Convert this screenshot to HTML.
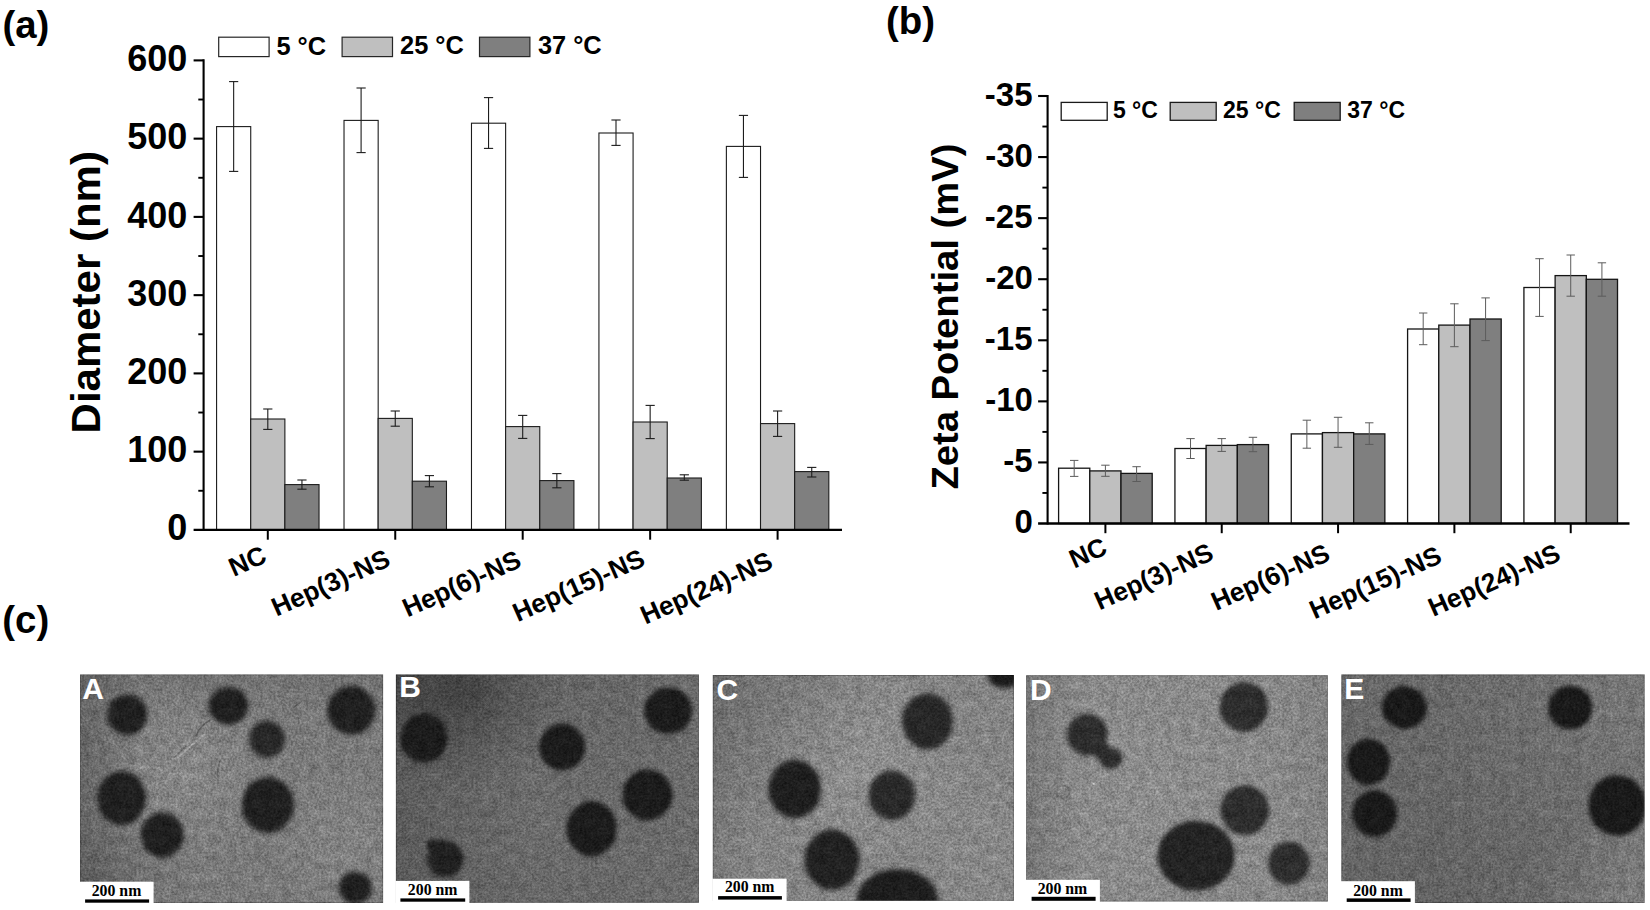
<!DOCTYPE html>
<html lang="en"><head><meta charset="utf-8"><title>Figure</title>
<style>html,body{margin:0;padding:0;background:#fff;overflow:hidden}svg{display:block}</style>
</head><body>
<svg width="1650" height="910" viewBox="0 0 1650 910">
<rect width="1650" height="910" fill="#fff"/>
<rect x="216.58" y="126.6" width="34.15" height="403.3" fill="#fff" stroke="#1c1c1c" stroke-width="1.1"/>
<rect x="250.73" y="419" width="34.15" height="110.9" fill="#bfbfbf" stroke="#1c1c1c" stroke-width="1.1"/>
<rect x="284.88" y="484.6" width="34.15" height="45.3" fill="#7f7f7f" stroke="#1c1c1c" stroke-width="1.1"/>
<line x1="233.65" y1="81.6" x2="233.65" y2="171.4" stroke="#1c1c1c" stroke-width="1.1" stroke-linecap="butt"/>
<line x1="229.05" y1="81.6" x2="238.25" y2="81.6" stroke="#1c1c1c" stroke-width="1.1" stroke-linecap="butt"/>
<line x1="229.05" y1="171.4" x2="238.25" y2="171.4" stroke="#1c1c1c" stroke-width="1.1" stroke-linecap="butt"/>
<line x1="267.8" y1="409" x2="267.8" y2="429.4" stroke="#1c1c1c" stroke-width="1.1" stroke-linecap="butt"/>
<line x1="263.2" y1="409" x2="272.4" y2="409" stroke="#1c1c1c" stroke-width="1.1" stroke-linecap="butt"/>
<line x1="263.2" y1="429.4" x2="272.4" y2="429.4" stroke="#1c1c1c" stroke-width="1.1" stroke-linecap="butt"/>
<line x1="301.95" y1="480" x2="301.95" y2="489.2" stroke="#1c1c1c" stroke-width="1.1" stroke-linecap="butt"/>
<line x1="297.35" y1="480" x2="306.55" y2="480" stroke="#1c1c1c" stroke-width="1.1" stroke-linecap="butt"/>
<line x1="297.35" y1="489.2" x2="306.55" y2="489.2" stroke="#1c1c1c" stroke-width="1.1" stroke-linecap="butt"/>
<rect x="344.02" y="120.4" width="34.15" height="409.5" fill="#fff" stroke="#1c1c1c" stroke-width="1.1"/>
<rect x="378.17" y="418.4" width="34.15" height="111.5" fill="#bfbfbf" stroke="#1c1c1c" stroke-width="1.1"/>
<rect x="412.32" y="481.2" width="34.15" height="48.7" fill="#7f7f7f" stroke="#1c1c1c" stroke-width="1.1"/>
<line x1="361.1" y1="88" x2="361.1" y2="152.6" stroke="#1c1c1c" stroke-width="1.1" stroke-linecap="butt"/>
<line x1="356.5" y1="88" x2="365.7" y2="88" stroke="#1c1c1c" stroke-width="1.1" stroke-linecap="butt"/>
<line x1="356.5" y1="152.6" x2="365.7" y2="152.6" stroke="#1c1c1c" stroke-width="1.1" stroke-linecap="butt"/>
<line x1="395.25" y1="411" x2="395.25" y2="426.2" stroke="#1c1c1c" stroke-width="1.1" stroke-linecap="butt"/>
<line x1="390.65" y1="411" x2="399.85" y2="411" stroke="#1c1c1c" stroke-width="1.1" stroke-linecap="butt"/>
<line x1="390.65" y1="426.2" x2="399.85" y2="426.2" stroke="#1c1c1c" stroke-width="1.1" stroke-linecap="butt"/>
<line x1="429.4" y1="475.6" x2="429.4" y2="486.8" stroke="#1c1c1c" stroke-width="1.1" stroke-linecap="butt"/>
<line x1="424.8" y1="475.6" x2="434" y2="475.6" stroke="#1c1c1c" stroke-width="1.1" stroke-linecap="butt"/>
<line x1="424.8" y1="486.8" x2="434" y2="486.8" stroke="#1c1c1c" stroke-width="1.1" stroke-linecap="butt"/>
<rect x="471.48" y="123.2" width="34.15" height="406.7" fill="#fff" stroke="#1c1c1c" stroke-width="1.1"/>
<rect x="505.62" y="426.6" width="34.15" height="103.3" fill="#bfbfbf" stroke="#1c1c1c" stroke-width="1.1"/>
<rect x="539.77" y="480.6" width="34.15" height="49.3" fill="#7f7f7f" stroke="#1c1c1c" stroke-width="1.1"/>
<line x1="488.55" y1="97.6" x2="488.55" y2="148.4" stroke="#1c1c1c" stroke-width="1.1" stroke-linecap="butt"/>
<line x1="483.95" y1="97.6" x2="493.15" y2="97.6" stroke="#1c1c1c" stroke-width="1.1" stroke-linecap="butt"/>
<line x1="483.95" y1="148.4" x2="493.15" y2="148.4" stroke="#1c1c1c" stroke-width="1.1" stroke-linecap="butt"/>
<line x1="522.7" y1="415.4" x2="522.7" y2="438.4" stroke="#1c1c1c" stroke-width="1.1" stroke-linecap="butt"/>
<line x1="518.1" y1="415.4" x2="527.3" y2="415.4" stroke="#1c1c1c" stroke-width="1.1" stroke-linecap="butt"/>
<line x1="518.1" y1="438.4" x2="527.3" y2="438.4" stroke="#1c1c1c" stroke-width="1.1" stroke-linecap="butt"/>
<line x1="556.85" y1="473.6" x2="556.85" y2="487.8" stroke="#1c1c1c" stroke-width="1.1" stroke-linecap="butt"/>
<line x1="552.25" y1="473.6" x2="561.45" y2="473.6" stroke="#1c1c1c" stroke-width="1.1" stroke-linecap="butt"/>
<line x1="552.25" y1="487.8" x2="561.45" y2="487.8" stroke="#1c1c1c" stroke-width="1.1" stroke-linecap="butt"/>
<rect x="598.93" y="133" width="34.15" height="396.9" fill="#fff" stroke="#1c1c1c" stroke-width="1.1"/>
<rect x="633.08" y="422" width="34.15" height="107.9" fill="#bfbfbf" stroke="#1c1c1c" stroke-width="1.1"/>
<rect x="667.23" y="478" width="34.15" height="51.9" fill="#7f7f7f" stroke="#1c1c1c" stroke-width="1.1"/>
<line x1="616" y1="120" x2="616" y2="145.4" stroke="#1c1c1c" stroke-width="1.1" stroke-linecap="butt"/>
<line x1="611.4" y1="120" x2="620.6" y2="120" stroke="#1c1c1c" stroke-width="1.1" stroke-linecap="butt"/>
<line x1="611.4" y1="145.4" x2="620.6" y2="145.4" stroke="#1c1c1c" stroke-width="1.1" stroke-linecap="butt"/>
<line x1="650.15" y1="405.4" x2="650.15" y2="438.6" stroke="#1c1c1c" stroke-width="1.1" stroke-linecap="butt"/>
<line x1="645.55" y1="405.4" x2="654.75" y2="405.4" stroke="#1c1c1c" stroke-width="1.1" stroke-linecap="butt"/>
<line x1="645.55" y1="438.6" x2="654.75" y2="438.6" stroke="#1c1c1c" stroke-width="1.1" stroke-linecap="butt"/>
<line x1="684.3" y1="474.8" x2="684.3" y2="480.2" stroke="#1c1c1c" stroke-width="1.1" stroke-linecap="butt"/>
<line x1="679.7" y1="474.8" x2="688.9" y2="474.8" stroke="#1c1c1c" stroke-width="1.1" stroke-linecap="butt"/>
<line x1="679.7" y1="480.2" x2="688.9" y2="480.2" stroke="#1c1c1c" stroke-width="1.1" stroke-linecap="butt"/>
<rect x="726.38" y="146.4" width="34.15" height="383.5" fill="#fff" stroke="#1c1c1c" stroke-width="1.1"/>
<rect x="760.52" y="423.6" width="34.15" height="106.3" fill="#bfbfbf" stroke="#1c1c1c" stroke-width="1.1"/>
<rect x="794.67" y="471.6" width="34.15" height="58.3" fill="#7f7f7f" stroke="#1c1c1c" stroke-width="1.1"/>
<line x1="743.45" y1="115.4" x2="743.45" y2="177.4" stroke="#1c1c1c" stroke-width="1.1" stroke-linecap="butt"/>
<line x1="738.85" y1="115.4" x2="748.05" y2="115.4" stroke="#1c1c1c" stroke-width="1.1" stroke-linecap="butt"/>
<line x1="738.85" y1="177.4" x2="748.05" y2="177.4" stroke="#1c1c1c" stroke-width="1.1" stroke-linecap="butt"/>
<line x1="777.6" y1="411" x2="777.6" y2="436.4" stroke="#1c1c1c" stroke-width="1.1" stroke-linecap="butt"/>
<line x1="773" y1="411" x2="782.2" y2="411" stroke="#1c1c1c" stroke-width="1.1" stroke-linecap="butt"/>
<line x1="773" y1="436.4" x2="782.2" y2="436.4" stroke="#1c1c1c" stroke-width="1.1" stroke-linecap="butt"/>
<line x1="811.75" y1="467.4" x2="811.75" y2="477" stroke="#1c1c1c" stroke-width="1.1" stroke-linecap="butt"/>
<line x1="807.15" y1="467.4" x2="816.35" y2="467.4" stroke="#1c1c1c" stroke-width="1.1" stroke-linecap="butt"/>
<line x1="807.15" y1="477" x2="816.35" y2="477" stroke="#1c1c1c" stroke-width="1.1" stroke-linecap="butt"/>
<line x1="203.6" y1="59.35" x2="203.6" y2="530.95" stroke="#000" stroke-width="2.1" stroke-linecap="butt"/>
<line x1="193.6" y1="529.9" x2="842" y2="529.9" stroke="#000" stroke-width="2.2" stroke-linecap="butt"/>
<text x="187.28" y="540.04" font-family='"Liberation Sans", Arial, Helvetica, sans-serif' font-size="36" font-weight="bold" text-anchor="end" fill="#000">0</text>
<line x1="198.3" y1="490.77" x2="203.6" y2="490.77" stroke="#000" stroke-width="1.9" stroke-linecap="butt"/>
<line x1="193.6" y1="451.65" x2="203.6" y2="451.65" stroke="#000" stroke-width="2.1" stroke-linecap="butt"/>
<text x="187.28" y="461.98" font-family='"Liberation Sans", Arial, Helvetica, sans-serif' font-size="36" font-weight="bold" text-anchor="end" fill="#000">100</text>
<line x1="198.3" y1="412.52" x2="203.6" y2="412.52" stroke="#000" stroke-width="1.9" stroke-linecap="butt"/>
<line x1="193.6" y1="373.4" x2="203.6" y2="373.4" stroke="#000" stroke-width="2.1" stroke-linecap="butt"/>
<text x="187.28" y="384.16" font-family='"Liberation Sans", Arial, Helvetica, sans-serif' font-size="36" font-weight="bold" text-anchor="end" fill="#000">200</text>
<line x1="198.3" y1="334.27" x2="203.6" y2="334.27" stroke="#000" stroke-width="1.9" stroke-linecap="butt"/>
<line x1="193.6" y1="295.15" x2="203.6" y2="295.15" stroke="#000" stroke-width="2.1" stroke-linecap="butt"/>
<text x="187.28" y="305.65" font-family='"Liberation Sans", Arial, Helvetica, sans-serif' font-size="36" font-weight="bold" text-anchor="end" fill="#000">300</text>
<line x1="198.3" y1="256.02" x2="203.6" y2="256.02" stroke="#000" stroke-width="1.9" stroke-linecap="butt"/>
<line x1="193.6" y1="216.9" x2="203.6" y2="216.9" stroke="#000" stroke-width="2.1" stroke-linecap="butt"/>
<text x="187.28" y="227.6" font-family='"Liberation Sans", Arial, Helvetica, sans-serif' font-size="36" font-weight="bold" text-anchor="end" fill="#000">400</text>
<line x1="198.3" y1="177.77" x2="203.6" y2="177.77" stroke="#000" stroke-width="1.9" stroke-linecap="butt"/>
<line x1="193.6" y1="138.65" x2="203.6" y2="138.65" stroke="#000" stroke-width="2.1" stroke-linecap="butt"/>
<text x="187.28" y="148.89" font-family='"Liberation Sans", Arial, Helvetica, sans-serif' font-size="36" font-weight="bold" text-anchor="end" fill="#000">500</text>
<line x1="198.3" y1="99.52" x2="203.6" y2="99.52" stroke="#000" stroke-width="1.9" stroke-linecap="butt"/>
<line x1="193.6" y1="60.4" x2="203.6" y2="60.4" stroke="#000" stroke-width="2.1" stroke-linecap="butt"/>
<text x="187.28" y="70.88" font-family='"Liberation Sans", Arial, Helvetica, sans-serif' font-size="36" font-weight="bold" text-anchor="end" fill="#000">600</text>
<line x1="267.8" y1="529.9" x2="267.8" y2="539.7" stroke="#000" stroke-width="2" stroke-linecap="butt"/>
<line x1="395.25" y1="529.9" x2="395.25" y2="539.7" stroke="#000" stroke-width="2" stroke-linecap="butt"/>
<line x1="522.7" y1="529.9" x2="522.7" y2="539.7" stroke="#000" stroke-width="2" stroke-linecap="butt"/>
<line x1="650.15" y1="529.9" x2="650.15" y2="539.7" stroke="#000" stroke-width="2" stroke-linecap="butt"/>
<line x1="777.6" y1="529.9" x2="777.6" y2="539.7" stroke="#000" stroke-width="2" stroke-linecap="butt"/>
<text x="0" y="0" font-family='"Liberation Sans", Arial, Helvetica, sans-serif' font-size="26.2" font-weight="bold" text-anchor="end" fill="#000" transform="translate(268.39 561.68) rotate(-24)">NC</text>
<text x="0" y="0" font-family='"Liberation Sans", Arial, Helvetica, sans-serif' font-size="26.2" font-weight="bold" text-anchor="end" fill="#000" transform="translate(392.04 565.23) rotate(-24)">Hep(3)-NS</text>
<text x="0" y="0" font-family='"Liberation Sans", Arial, Helvetica, sans-serif' font-size="26.2" font-weight="bold" text-anchor="end" fill="#000" transform="translate(523.06 566.13) rotate(-24)">Hep(6)-NS</text>
<text x="0" y="0" font-family='"Liberation Sans", Arial, Helvetica, sans-serif' font-size="26.2" font-weight="bold" text-anchor="end" fill="#000" transform="translate(646.78 564.8) rotate(-24)">Hep(15)-NS</text>
<text x="0" y="0" font-family='"Liberation Sans", Arial, Helvetica, sans-serif' font-size="26.2" font-weight="bold" text-anchor="end" fill="#000" transform="translate(774.49 567.39) rotate(-24)">Hep(24)-NS</text>
<text x="0" y="0" font-family='"Liberation Sans", Arial, Helvetica, sans-serif' font-size="42" font-weight="bold" text-anchor="middle" fill="#000" transform="translate(100.12 292.25) rotate(-90) scale(1 0.95)">Diameter (nm)</text>
<rect x="218.7" y="37.2" width="50.4" height="19.4" fill="#fff" stroke="#262626" stroke-width="1.2"/>
<text x="276.4" y="54.63" font-family='"Liberation Sans", Arial, Helvetica, sans-serif' font-size="25.4" font-weight="bold" text-anchor="start" fill="#000">5 °C</text>
<rect x="342.1" y="37.2" width="50.4" height="19.4" fill="#bfbfbf" stroke="#262626" stroke-width="1.2"/>
<text x="400.09" y="54.21" font-family='"Liberation Sans", Arial, Helvetica, sans-serif' font-size="25.4" font-weight="bold" text-anchor="start" fill="#000">25 °C</text>
<rect x="479.5" y="37.2" width="50.4" height="19.4" fill="#7f7f7f" stroke="#262626" stroke-width="1.2"/>
<text x="537.9" y="54.21" font-family='"Liberation Sans", Arial, Helvetica, sans-serif' font-size="25.4" font-weight="bold" text-anchor="start" fill="#000">37 °C</text>
<text x="2.43" y="37.62" font-family='"Liberation Sans", Arial, Helvetica, sans-serif' font-size="38.4" font-weight="bold" text-anchor="start" fill="#000">(a)</text>
<rect x="1058.6" y="468.2" width="31.2" height="55.3" fill="#fff" stroke="#141414" stroke-width="1.3"/>
<rect x="1089.8" y="470.9" width="31.2" height="52.6" fill="#bfbfbf" stroke="#141414" stroke-width="1.3"/>
<rect x="1121" y="473.4" width="31.2" height="50.1" fill="#7f7f7f" stroke="#141414" stroke-width="1.3"/>
<line x1="1074.2" y1="460.4" x2="1074.2" y2="476.4" stroke="#5c5c5c" stroke-width="1" stroke-linecap="butt"/>
<line x1="1070" y1="460.4" x2="1078.4" y2="460.4" stroke="#5c5c5c" stroke-width="1" stroke-linecap="butt"/>
<line x1="1070" y1="476.4" x2="1078.4" y2="476.4" stroke="#5c5c5c" stroke-width="1" stroke-linecap="butt"/>
<line x1="1105.4" y1="465.2" x2="1105.4" y2="476.3" stroke="#5c5c5c" stroke-width="1" stroke-linecap="butt"/>
<line x1="1101.2" y1="465.2" x2="1109.6" y2="465.2" stroke="#5c5c5c" stroke-width="1" stroke-linecap="butt"/>
<line x1="1101.2" y1="476.3" x2="1109.6" y2="476.3" stroke="#5c5c5c" stroke-width="1" stroke-linecap="butt"/>
<line x1="1136.6" y1="466.7" x2="1136.6" y2="481.5" stroke="#5c5c5c" stroke-width="1" stroke-linecap="butt"/>
<line x1="1132.4" y1="466.7" x2="1140.8" y2="466.7" stroke="#5c5c5c" stroke-width="1" stroke-linecap="butt"/>
<line x1="1132.4" y1="481.5" x2="1140.8" y2="481.5" stroke="#5c5c5c" stroke-width="1" stroke-linecap="butt"/>
<rect x="1174.93" y="448.5" width="31.2" height="75" fill="#fff" stroke="#141414" stroke-width="1.3"/>
<rect x="1206.13" y="445.4" width="31.2" height="78.1" fill="#bfbfbf" stroke="#141414" stroke-width="1.3"/>
<rect x="1237.33" y="444.6" width="31.2" height="78.9" fill="#7f7f7f" stroke="#141414" stroke-width="1.3"/>
<line x1="1190.53" y1="438.6" x2="1190.53" y2="458.5" stroke="#5c5c5c" stroke-width="1" stroke-linecap="butt"/>
<line x1="1186.33" y1="438.6" x2="1194.73" y2="438.6" stroke="#5c5c5c" stroke-width="1" stroke-linecap="butt"/>
<line x1="1186.33" y1="458.5" x2="1194.73" y2="458.5" stroke="#5c5c5c" stroke-width="1" stroke-linecap="butt"/>
<line x1="1221.73" y1="438.6" x2="1221.73" y2="451.4" stroke="#5c5c5c" stroke-width="1" stroke-linecap="butt"/>
<line x1="1217.53" y1="438.6" x2="1225.93" y2="438.6" stroke="#5c5c5c" stroke-width="1" stroke-linecap="butt"/>
<line x1="1217.53" y1="451.4" x2="1225.93" y2="451.4" stroke="#5c5c5c" stroke-width="1" stroke-linecap="butt"/>
<line x1="1252.93" y1="437.3" x2="1252.93" y2="451.7" stroke="#5c5c5c" stroke-width="1" stroke-linecap="butt"/>
<line x1="1248.73" y1="437.3" x2="1257.13" y2="437.3" stroke="#5c5c5c" stroke-width="1" stroke-linecap="butt"/>
<line x1="1248.73" y1="451.7" x2="1257.13" y2="451.7" stroke="#5c5c5c" stroke-width="1" stroke-linecap="butt"/>
<rect x="1291.26" y="433.9" width="31.2" height="89.6" fill="#fff" stroke="#141414" stroke-width="1.3"/>
<rect x="1322.46" y="432.6" width="31.2" height="90.9" fill="#bfbfbf" stroke="#141414" stroke-width="1.3"/>
<rect x="1353.66" y="433.9" width="31.2" height="89.6" fill="#7f7f7f" stroke="#141414" stroke-width="1.3"/>
<line x1="1306.86" y1="420.2" x2="1306.86" y2="448.2" stroke="#5c5c5c" stroke-width="1" stroke-linecap="butt"/>
<line x1="1302.66" y1="420.2" x2="1311.06" y2="420.2" stroke="#5c5c5c" stroke-width="1" stroke-linecap="butt"/>
<line x1="1302.66" y1="448.2" x2="1311.06" y2="448.2" stroke="#5c5c5c" stroke-width="1" stroke-linecap="butt"/>
<line x1="1338.06" y1="417.3" x2="1338.06" y2="447.3" stroke="#5c5c5c" stroke-width="1" stroke-linecap="butt"/>
<line x1="1333.86" y1="417.3" x2="1342.26" y2="417.3" stroke="#5c5c5c" stroke-width="1" stroke-linecap="butt"/>
<line x1="1333.86" y1="447.3" x2="1342.26" y2="447.3" stroke="#5c5c5c" stroke-width="1" stroke-linecap="butt"/>
<line x1="1369.26" y1="422.8" x2="1369.26" y2="444.4" stroke="#5c5c5c" stroke-width="1" stroke-linecap="butt"/>
<line x1="1365.06" y1="422.8" x2="1373.46" y2="422.8" stroke="#5c5c5c" stroke-width="1" stroke-linecap="butt"/>
<line x1="1365.06" y1="444.4" x2="1373.46" y2="444.4" stroke="#5c5c5c" stroke-width="1" stroke-linecap="butt"/>
<rect x="1407.59" y="329" width="31.2" height="194.5" fill="#fff" stroke="#141414" stroke-width="1.3"/>
<rect x="1438.79" y="325.1" width="31.2" height="198.4" fill="#bfbfbf" stroke="#141414" stroke-width="1.3"/>
<rect x="1469.99" y="319" width="31.2" height="204.5" fill="#7f7f7f" stroke="#141414" stroke-width="1.3"/>
<line x1="1423.19" y1="313" x2="1423.19" y2="344.7" stroke="#5c5c5c" stroke-width="1" stroke-linecap="butt"/>
<line x1="1418.99" y1="313" x2="1427.39" y2="313" stroke="#5c5c5c" stroke-width="1" stroke-linecap="butt"/>
<line x1="1418.99" y1="344.7" x2="1427.39" y2="344.7" stroke="#5c5c5c" stroke-width="1" stroke-linecap="butt"/>
<line x1="1454.39" y1="303.8" x2="1454.39" y2="346.7" stroke="#5c5c5c" stroke-width="1" stroke-linecap="butt"/>
<line x1="1450.19" y1="303.8" x2="1458.59" y2="303.8" stroke="#5c5c5c" stroke-width="1" stroke-linecap="butt"/>
<line x1="1450.19" y1="346.7" x2="1458.59" y2="346.7" stroke="#5c5c5c" stroke-width="1" stroke-linecap="butt"/>
<line x1="1485.59" y1="297.9" x2="1485.59" y2="340.6" stroke="#5c5c5c" stroke-width="1" stroke-linecap="butt"/>
<line x1="1481.39" y1="297.9" x2="1489.79" y2="297.9" stroke="#5c5c5c" stroke-width="1" stroke-linecap="butt"/>
<line x1="1481.39" y1="340.6" x2="1489.79" y2="340.6" stroke="#5c5c5c" stroke-width="1" stroke-linecap="butt"/>
<rect x="1523.92" y="287.5" width="31.2" height="236" fill="#fff" stroke="#141414" stroke-width="1.3"/>
<rect x="1555.12" y="275.6" width="31.2" height="247.9" fill="#bfbfbf" stroke="#141414" stroke-width="1.3"/>
<rect x="1586.32" y="279.3" width="31.2" height="244.2" fill="#7f7f7f" stroke="#141414" stroke-width="1.3"/>
<line x1="1539.52" y1="258.7" x2="1539.52" y2="316.4" stroke="#5c5c5c" stroke-width="1" stroke-linecap="butt"/>
<line x1="1535.32" y1="258.7" x2="1543.72" y2="258.7" stroke="#5c5c5c" stroke-width="1" stroke-linecap="butt"/>
<line x1="1535.32" y1="316.4" x2="1543.72" y2="316.4" stroke="#5c5c5c" stroke-width="1" stroke-linecap="butt"/>
<line x1="1570.72" y1="255" x2="1570.72" y2="296.2" stroke="#5c5c5c" stroke-width="1" stroke-linecap="butt"/>
<line x1="1566.52" y1="255" x2="1574.92" y2="255" stroke="#5c5c5c" stroke-width="1" stroke-linecap="butt"/>
<line x1="1566.52" y1="296.2" x2="1574.92" y2="296.2" stroke="#5c5c5c" stroke-width="1" stroke-linecap="butt"/>
<line x1="1601.92" y1="262.8" x2="1601.92" y2="296.2" stroke="#5c5c5c" stroke-width="1" stroke-linecap="butt"/>
<line x1="1597.72" y1="262.8" x2="1606.12" y2="262.8" stroke="#5c5c5c" stroke-width="1" stroke-linecap="butt"/>
<line x1="1597.72" y1="296.2" x2="1606.12" y2="296.2" stroke="#5c5c5c" stroke-width="1" stroke-linecap="butt"/>
<line x1="1047.6" y1="94.95" x2="1047.6" y2="524.55" stroke="#000" stroke-width="2.1" stroke-linecap="butt"/>
<line x1="1038.1" y1="523.5" x2="1629.5" y2="523.5" stroke="#000" stroke-width="2.3" stroke-linecap="butt"/>
<text x="1032.91" y="533.41" font-family='"Liberation Sans", Arial, Helvetica, sans-serif' font-size="33" font-weight="bold" text-anchor="end" fill="#000">0</text>
<line x1="1042.4" y1="492.96" x2="1047.6" y2="492.96" stroke="#000" stroke-width="1.9" stroke-linecap="butt"/>
<line x1="1038.1" y1="462.43" x2="1047.6" y2="462.43" stroke="#000" stroke-width="2.1" stroke-linecap="butt"/>
<text x="1032.57" y="472.24" font-family='"Liberation Sans", Arial, Helvetica, sans-serif' font-size="33" font-weight="bold" text-anchor="end" fill="#000">-5</text>
<line x1="1042.4" y1="431.89" x2="1047.6" y2="431.89" stroke="#000" stroke-width="1.9" stroke-linecap="butt"/>
<line x1="1038.1" y1="401.36" x2="1047.6" y2="401.36" stroke="#000" stroke-width="2.1" stroke-linecap="butt"/>
<text x="1032.91" y="411.24" font-family='"Liberation Sans", Arial, Helvetica, sans-serif' font-size="33" font-weight="bold" text-anchor="end" fill="#000">-10</text>
<line x1="1042.4" y1="370.82" x2="1047.6" y2="370.82" stroke="#000" stroke-width="1.9" stroke-linecap="butt"/>
<line x1="1038.1" y1="340.29" x2="1047.6" y2="340.29" stroke="#000" stroke-width="2.1" stroke-linecap="butt"/>
<text x="1032.57" y="349.68" font-family='"Liberation Sans", Arial, Helvetica, sans-serif' font-size="33" font-weight="bold" text-anchor="end" fill="#000">-15</text>
<line x1="1042.4" y1="309.75" x2="1047.6" y2="309.75" stroke="#000" stroke-width="1.9" stroke-linecap="butt"/>
<line x1="1038.1" y1="279.21" x2="1047.6" y2="279.21" stroke="#000" stroke-width="2.1" stroke-linecap="butt"/>
<text x="1032.91" y="288.65" font-family='"Liberation Sans", Arial, Helvetica, sans-serif' font-size="33" font-weight="bold" text-anchor="end" fill="#000">-20</text>
<line x1="1042.4" y1="248.68" x2="1047.6" y2="248.68" stroke="#000" stroke-width="1.9" stroke-linecap="butt"/>
<line x1="1038.1" y1="218.14" x2="1047.6" y2="218.14" stroke="#000" stroke-width="2.1" stroke-linecap="butt"/>
<text x="1032.57" y="227.52" font-family='"Liberation Sans", Arial, Helvetica, sans-serif' font-size="33" font-weight="bold" text-anchor="end" fill="#000">-25</text>
<line x1="1042.4" y1="187.61" x2="1047.6" y2="187.61" stroke="#000" stroke-width="1.9" stroke-linecap="butt"/>
<line x1="1038.1" y1="157.07" x2="1047.6" y2="157.07" stroke="#000" stroke-width="2.1" stroke-linecap="butt"/>
<text x="1032.91" y="166.97" font-family='"Liberation Sans", Arial, Helvetica, sans-serif' font-size="33" font-weight="bold" text-anchor="end" fill="#000">-30</text>
<line x1="1042.4" y1="126.54" x2="1047.6" y2="126.54" stroke="#000" stroke-width="1.9" stroke-linecap="butt"/>
<line x1="1038.1" y1="96" x2="1047.6" y2="96" stroke="#000" stroke-width="2.1" stroke-linecap="butt"/>
<text x="1032.57" y="105.81" font-family='"Liberation Sans", Arial, Helvetica, sans-serif' font-size="33" font-weight="bold" text-anchor="end" fill="#000">-35</text>
<line x1="1105.4" y1="523.5" x2="1105.4" y2="533.2" stroke="#000" stroke-width="2" stroke-linecap="butt"/>
<line x1="1221.73" y1="523.5" x2="1221.73" y2="533.2" stroke="#000" stroke-width="2" stroke-linecap="butt"/>
<line x1="1338.06" y1="523.5" x2="1338.06" y2="533.2" stroke="#000" stroke-width="2" stroke-linecap="butt"/>
<line x1="1454.39" y1="523.5" x2="1454.39" y2="533.2" stroke="#000" stroke-width="2" stroke-linecap="butt"/>
<line x1="1570.72" y1="523.5" x2="1570.72" y2="533.2" stroke="#000" stroke-width="2" stroke-linecap="butt"/>
<text x="0" y="0" font-family='"Liberation Sans", Arial, Helvetica, sans-serif' font-size="26.2" font-weight="bold" text-anchor="end" fill="#000" transform="translate(1108.76 553.31) rotate(-24)">NC</text>
<text x="0" y="0" font-family='"Liberation Sans", Arial, Helvetica, sans-serif' font-size="26.2" font-weight="bold" text-anchor="end" fill="#000" transform="translate(1215.24 558.97) rotate(-24)">Hep(3)-NS</text>
<text x="0" y="0" font-family='"Liberation Sans", Arial, Helvetica, sans-serif' font-size="26.2" font-weight="bold" text-anchor="end" fill="#000" transform="translate(1331.82 559.55) rotate(-24)">Hep(6)-NS</text>
<text x="0" y="0" font-family='"Liberation Sans", Arial, Helvetica, sans-serif' font-size="26.2" font-weight="bold" text-anchor="end" fill="#000" transform="translate(1443.41 562.01) rotate(-24)">Hep(15)-NS</text>
<text x="0" y="0" font-family='"Liberation Sans", Arial, Helvetica, sans-serif' font-size="26.2" font-weight="bold" text-anchor="end" fill="#000" transform="translate(1562.18 559.7) rotate(-24)">Hep(24)-NS</text>
<text x="0" y="0" font-family='"Liberation Sans", Arial, Helvetica, sans-serif' font-size="38.2" font-weight="bold" text-anchor="middle" fill="#000" transform="translate(958.4 316.61) rotate(-90) scale(1 0.97)">Zeta Potential (mV)</text>
<rect x="1061.2" y="102.4" width="46" height="17.9" fill="#fff" stroke="#1a1a1a" stroke-width="1.3"/>
<text x="1112.9" y="118.41" font-family='"Liberation Sans", Arial, Helvetica, sans-serif' font-size="23" font-weight="bold" text-anchor="start" fill="#000">5 °C</text>
<rect x="1170.2" y="102.4" width="46" height="17.9" fill="#bfbfbf" stroke="#1a1a1a" stroke-width="1.3"/>
<text x="1222.98" y="118.13" font-family='"Liberation Sans", Arial, Helvetica, sans-serif' font-size="23" font-weight="bold" text-anchor="start" fill="#000">25 °C</text>
<rect x="1294.2" y="102.4" width="46" height="17.9" fill="#7f7f7f" stroke="#1a1a1a" stroke-width="1.3"/>
<text x="1347.3" y="118.09" font-family='"Liberation Sans", Arial, Helvetica, sans-serif' font-size="23" font-weight="bold" text-anchor="start" fill="#000">37 °C</text>
<text x="886.05" y="33.93" font-family='"Liberation Sans", Arial, Helvetica, sans-serif' font-size="38.4" font-weight="bold" text-anchor="start" fill="#000">(b)</text>
<text x="2.33" y="632.72" font-family='"Liberation Sans", Arial, Helvetica, sans-serif' font-size="38.4" font-weight="bold" text-anchor="start" fill="#000">(c)</text>
<defs><filter id="soft" x="-10%" y="-10%" width="120%" height="120%"><feGaussianBlur stdDeviation="0.6"/></filter></defs>
<defs><linearGradient id="gA1" gradientUnits="userSpaceOnUse" x1="80.05" y1="0" x2="140.05" y2="0"><stop offset="0" stop-color="#000" stop-opacity="0.17"/><stop offset="1" stop-color="#000" stop-opacity="0"/></linearGradient><radialGradient id="gA2" gradientUnits="userSpaceOnUse" cx="190" cy="770" r="95"><stop offset="0" stop-color="#fff" stop-opacity="0.1"/><stop offset="1" stop-color="#fff" stop-opacity="0"/></radialGradient><radialGradient id="gA3" gradientUnits="userSpaceOnUse" cx="345" cy="840" r="80"><stop offset="0" stop-color="#fff" stop-opacity="0.07"/><stop offset="1" stop-color="#fff" stop-opacity="0"/></radialGradient><radialGradient id="gA4" gradientUnits="userSpaceOnUse" cx="105" cy="895" r="90"><stop offset="0" stop-color="#000" stop-opacity="0.12"/><stop offset="1" stop-color="#000" stop-opacity="0"/></radialGradient><linearGradient id="gA5" gradientUnits="userSpaceOnUse" x1="0" y1="674.4" x2="0" y2="714.4"><stop offset="0" stop-color="#000" stop-opacity="0.07"/><stop offset="1" stop-color="#000" stop-opacity="0"/></linearGradient></defs>
<defs>
<clipPath id="clip0"><rect x="80.05" y="674.4" width="303.05" height="228.6"/></clipPath>
<filter id="bl0" filterUnits="userSpaceOnUse" x="60.05" y="654.4" width="343.05" height="268.6" color-interpolation-filters="sRGB"><feGaussianBlur stdDeviation="2.6"/></filter>
<filter id="gr0" filterUnits="userSpaceOnUse" x="79.05" y="673.4" width="305.05" height="230.6" color-interpolation-filters="sRGB"><feTurbulence type="fractalNoise" baseFrequency="0.46" numOctaves="2" seed="3"/><feColorMatrix type="matrix" values="1 0 0 0 0  1 0 0 0 0  1 0 0 0 0  0 0 0 0 1" result="n1"/><feTurbulence type="fractalNoise" baseFrequency="0.11" numOctaves="2" seed="23"/><feColorMatrix type="matrix" values="1 0 0 0 0  1 0 0 0 0  1 0 0 0 0  0 0 0 0 1" result="n2"/><feComposite in="n1" in2="n2" operator="arithmetic" k1="0" k2="0.66" k3="0.34" k4="0" result="g"/><feComposite in="SourceGraphic" in2="g" operator="arithmetic" k1="0.7" k2="0.65" k3="0.12" k4="-0.06"/></filter>
</defs>
<g clip-path="url(#clip0)">
<g filter="url(#gr0)">
<rect x="78.05" y="672.4" width="307.05" height="232.6" fill="#7a7a7a"/>
<rect x="80.05" y="674.4" width="303.05" height="228.6" fill="url(#gA1)"/>
<rect x="80.05" y="674.4" width="303.05" height="228.6" fill="url(#gA2)"/>
<rect x="80.05" y="674.4" width="303.05" height="228.6" fill="url(#gA3)"/>
<rect x="80.05" y="674.4" width="303.05" height="228.6" fill="url(#gA4)"/>
<rect x="80.05" y="674.4" width="303.05" height="228.6" fill="url(#gA5)"/>
<g filter="url(#bl0)">
<ellipse cx="127.3" cy="714.8" rx="20.2" ry="20.4" fill="#202020"/>
<ellipse cx="228.3" cy="705.9" rx="20" ry="19" fill="#202020"/>
<ellipse cx="267" cy="739" rx="18" ry="18.8" fill="#282828"/>
<ellipse cx="351.3" cy="710.2" rx="24.2" ry="24.4" fill="#202020"/>
<ellipse cx="121.7" cy="798.2" rx="24.4" ry="27" fill="#202020"/>
<ellipse cx="162.3" cy="835.1" rx="21.7" ry="22.6" fill="#202020"/>
<ellipse cx="267.8" cy="805" rx="26.2" ry="28" fill="#202020"/>
<ellipse cx="355.3" cy="887.9" rx="16.6" ry="16.2" fill="#202020"/>
</g>
<g fill="none" stroke-linecap="round" filter="url(#soft)"><path d="M210 720 Q200 726 196 736" stroke="#000" stroke-opacity="0.28" stroke-width="1.6"/><path d="M204 735 Q192 744 184 752 T172 759" stroke="#fff" stroke-opacity="0.22" stroke-width="1.8"/><path d="M186 746 Q180 752 175 757" stroke="#000" stroke-opacity="0.2" stroke-width="1.4"/><path d="M220 761 Q217 769 218 777" stroke="#000" stroke-opacity="0.26" stroke-width="1.5"/><path d="M294 707 L301 702" stroke="#000" stroke-opacity="0.25" stroke-width="1.4"/><path d="M298 718 L299 723" stroke="#000" stroke-opacity="0.22" stroke-width="1.4"/><path d="M140 768 Q152 764 162 770 T185 772" stroke="#fff" stroke-opacity="0.12" stroke-width="2"/><path d="M296 850 L297 858" stroke="#000" stroke-opacity="0.22" stroke-width="1.4"/></g>
</g>
<rect x="80.05" y="674.4" width="303.05" height="228.6" fill="none" stroke="#000" stroke-opacity="0.28" stroke-width="1.6"/>
</g>
<rect x="79.55" y="881.7" width="74.05" height="21.9" fill="#fff"/>
<rect x="85.1" y="899.4" width="64" height="3.3" fill="#000"/>
<text x="116.51" y="895.61" font-family='"Liberation Serif", "Times New Roman", serif' font-size="15.8" font-weight="bold" text-anchor="middle" fill="#000">200 nm</text>
<text x="82.24" y="698.54" font-family='"Liberation Sans", Arial, Helvetica, sans-serif' font-size="30" font-weight="bold" text-anchor="start" fill="#fff">A</text>
<defs><radialGradient id="gB1" gradientUnits="userSpaceOnUse" cx="468" cy="690" r="95"><stop offset="0" stop-color="#000" stop-opacity="0.27"/><stop offset="1" stop-color="#000" stop-opacity="0"/></radialGradient><radialGradient id="gB2" gradientUnits="userSpaceOnUse" cx="395.9" cy="674.4" r="110"><stop offset="0" stop-color="#000" stop-opacity="0.16"/><stop offset="1" stop-color="#000" stop-opacity="0"/></radialGradient><radialGradient id="gB3" gradientUnits="userSpaceOnUse" cx="540" cy="810" r="150"><stop offset="0" stop-color="#fff" stop-opacity="0.05"/><stop offset="1" stop-color="#fff" stop-opacity="0"/></radialGradient><linearGradient id="gB4" gradientUnits="userSpaceOnUse" x1="588.9" y1="0" x2="698.9" y2="0"><stop offset="0" stop-color="#fff" stop-opacity="0"/><stop offset="1" stop-color="#fff" stop-opacity="0.05"/></linearGradient><linearGradient id="gB5" gradientUnits="userSpaceOnUse" x1="395.9" y1="0" x2="535.9" y2="0"><stop offset="0" stop-color="#000" stop-opacity="0.1"/><stop offset="1" stop-color="#000" stop-opacity="0"/></linearGradient></defs>
<defs>
<clipPath id="clip1"><rect x="395.9" y="674.4" width="303" height="228.3"/></clipPath>
<filter id="bl1" filterUnits="userSpaceOnUse" x="375.9" y="654.4" width="343" height="268.3" color-interpolation-filters="sRGB"><feGaussianBlur stdDeviation="2.3"/></filter>
<filter id="gr1" filterUnits="userSpaceOnUse" x="394.9" y="673.4" width="305" height="230.3" color-interpolation-filters="sRGB"><feTurbulence type="fractalNoise" baseFrequency="0.46" numOctaves="2" seed="11"/><feColorMatrix type="matrix" values="1 0 0 0 0  1 0 0 0 0  1 0 0 0 0  0 0 0 0 1" result="n1"/><feTurbulence type="fractalNoise" baseFrequency="0.11" numOctaves="2" seed="31"/><feColorMatrix type="matrix" values="1 0 0 0 0  1 0 0 0 0  1 0 0 0 0  0 0 0 0 1" result="n2"/><feComposite in="n1" in2="n2" operator="arithmetic" k1="0" k2="0.66" k3="0.34" k4="0" result="g"/><feComposite in="SourceGraphic" in2="g" operator="arithmetic" k1="0.7" k2="0.65" k3="0.12" k4="-0.06"/></filter>
</defs>
<g clip-path="url(#clip1)">
<g filter="url(#gr1)">
<rect x="393.9" y="672.4" width="307" height="232.3" fill="#656565"/>
<rect x="395.9" y="674.4" width="303" height="228.3" fill="url(#gB1)"/>
<rect x="395.9" y="674.4" width="303" height="228.3" fill="url(#gB2)"/>
<rect x="395.9" y="674.4" width="303" height="228.3" fill="url(#gB3)"/>
<rect x="395.9" y="674.4" width="303" height="228.3" fill="url(#gB4)"/>
<rect x="395.9" y="674.4" width="303" height="228.3" fill="url(#gB5)"/>
<g filter="url(#bl1)">
<ellipse cx="424" cy="738.2" rx="23.6" ry="24.6" fill="#1c1c1c"/>
<ellipse cx="562.1" cy="747.1" rx="23.1" ry="23.5" fill="#1c1c1c"/>
<ellipse cx="668.2" cy="710.8" rx="24" ry="23.5" fill="#1c1c1c"/>
<ellipse cx="647.4" cy="795" rx="25.1" ry="25.4" fill="#1c1c1c"/>
<ellipse cx="591.7" cy="828.7" rx="25.1" ry="27.6" fill="#1c1c1c"/>
<ellipse cx="445.1" cy="859" rx="18.1" ry="18.6" fill="#212121"/>
<path d="M425.5 840.5 L444 840 L432 862 Z" fill="#212121"/>
</g>
</g>
<rect x="395.9" y="674.4" width="303" height="228.3" fill="none" stroke="#000" stroke-opacity="0.28" stroke-width="1.6"/>
</g>
<rect x="395.4" y="880.9" width="74" height="22.4" fill="#fff"/>
<rect x="400.4" y="898.4" width="64.8" height="3.3" fill="#000"/>
<text x="432.65" y="894.74" font-family='"Liberation Serif", "Times New Roman", serif' font-size="15.8" font-weight="bold" text-anchor="middle" fill="#000">200 nm</text>
<text x="399.3" y="696.91" font-family='"Liberation Sans", Arial, Helvetica, sans-serif' font-size="30" font-weight="bold" text-anchor="start" fill="#fff">B</text>
<defs><radialGradient id="gC1" gradientUnits="userSpaceOnUse" cx="712.8" cy="675" r="170"><stop offset="0" stop-color="#000" stop-opacity="0.15"/><stop offset="1" stop-color="#000" stop-opacity="0"/></radialGradient><radialGradient id="gC2" gradientUnits="userSpaceOnUse" cx="865" cy="765" r="110"><stop offset="0" stop-color="#fff" stop-opacity="0.1"/><stop offset="1" stop-color="#fff" stop-opacity="0"/></radialGradient><radialGradient id="gC3" gradientUnits="userSpaceOnUse" cx="980" cy="840" r="90"><stop offset="0" stop-color="#fff" stop-opacity="0.04"/><stop offset="1" stop-color="#fff" stop-opacity="0"/></radialGradient><linearGradient id="gC4" gradientUnits="userSpaceOnUse" x1="712.8" y1="0" x2="752.8" y2="0"><stop offset="0" stop-color="#000" stop-opacity="0.08"/><stop offset="1" stop-color="#000" stop-opacity="0"/></linearGradient></defs>
<defs>
<clipPath id="clip2"><rect x="712.8" y="675" width="301.1" height="225.8"/></clipPath>
<filter id="bl2" filterUnits="userSpaceOnUse" x="692.8" y="655" width="341.1" height="265.8" color-interpolation-filters="sRGB"><feGaussianBlur stdDeviation="2.6"/></filter>
<filter id="gr2" filterUnits="userSpaceOnUse" x="711.8" y="674" width="303.1" height="227.8" color-interpolation-filters="sRGB"><feTurbulence type="fractalNoise" baseFrequency="0.46" numOctaves="2" seed="5"/><feColorMatrix type="matrix" values="1 0 0 0 0  1 0 0 0 0  1 0 0 0 0  0 0 0 0 1" result="n1"/><feTurbulence type="fractalNoise" baseFrequency="0.11" numOctaves="2" seed="25"/><feColorMatrix type="matrix" values="1 0 0 0 0  1 0 0 0 0  1 0 0 0 0  0 0 0 0 1" result="n2"/><feComposite in="n1" in2="n2" operator="arithmetic" k1="0" k2="0.66" k3="0.34" k4="0" result="g"/><feComposite in="SourceGraphic" in2="g" operator="arithmetic" k1="0.7" k2="0.65" k3="0.12" k4="-0.06"/></filter>
</defs>
<g clip-path="url(#clip2)">
<g filter="url(#gr2)">
<rect x="710.8" y="673" width="305.1" height="229.8" fill="#848484"/>
<rect x="712.8" y="675" width="301.1" height="225.8" fill="url(#gC1)"/>
<rect x="712.8" y="675" width="301.1" height="225.8" fill="url(#gC2)"/>
<rect x="712.8" y="675" width="301.1" height="225.8" fill="url(#gC3)"/>
<rect x="712.8" y="675" width="301.1" height="225.8" fill="url(#gC4)"/>
<g filter="url(#bl2)">
<ellipse cx="927.5" cy="721.5" rx="25.4" ry="28.3" fill="#282828"/>
<ellipse cx="794.8" cy="789" rx="26.4" ry="29.1" fill="#1f1f1f"/>
<ellipse cx="891.9" cy="795.4" rx="23.5" ry="24.8" fill="#2a2a2a"/>
<ellipse cx="831.9" cy="859.8" rx="27.6" ry="30.2" fill="#222222"/>
<ellipse cx="897.4" cy="901" rx="41" ry="32.1" fill="#1e1e1e"/>
<ellipse cx="1005" cy="675" rx="17.6" ry="13.1" fill="#1c1c1c"/>
</g>
</g>
<rect x="712.8" y="675" width="301.1" height="225.8" fill="none" stroke="#000" stroke-opacity="0.28" stroke-width="1.6"/>
</g>
<rect x="712.3" y="878.7" width="74.3" height="22.7" fill="#fff"/>
<rect x="718.1" y="896.1" width="63.8" height="3.5" fill="#000"/>
<text x="749.68" y="892.26" font-family='"Liberation Serif", "Times New Roman", serif' font-size="15.8" font-weight="bold" text-anchor="middle" fill="#000">200 nm</text>
<text x="716.53" y="700.41" font-family='"Liberation Sans", Arial, Helvetica, sans-serif' font-size="30" font-weight="bold" text-anchor="start" fill="#fff">C</text>
<defs><radialGradient id="gD1" gradientUnits="userSpaceOnUse" cx="1150" cy="790" r="150"><stop offset="0" stop-color="#fff" stop-opacity="0.04"/><stop offset="1" stop-color="#fff" stop-opacity="0"/></radialGradient><linearGradient id="gD2" gradientUnits="userSpaceOnUse" x1="1026.2" y1="0" x2="1081.2" y2="0"><stop offset="0" stop-color="#000" stop-opacity="0.13"/><stop offset="1" stop-color="#000" stop-opacity="0"/></linearGradient><linearGradient id="gD3" gradientUnits="userSpaceOnUse" x1="1277.8" y1="0" x2="1327.8" y2="0"><stop offset="0" stop-color="#000" stop-opacity="0"/><stop offset="1" stop-color="#000" stop-opacity="0.05"/></linearGradient></defs>
<defs>
<clipPath id="clip3"><rect x="1026.2" y="675.3" width="301.6" height="226.2"/></clipPath>
<filter id="bl3" filterUnits="userSpaceOnUse" x="1006.2" y="655.3" width="341.6" height="266.2" color-interpolation-filters="sRGB"><feGaussianBlur stdDeviation="2.2"/></filter>
<filter id="gr3" filterUnits="userSpaceOnUse" x="1025.2" y="674.3" width="303.6" height="228.2" color-interpolation-filters="sRGB"><feTurbulence type="fractalNoise" baseFrequency="0.46" numOctaves="2" seed="8"/><feColorMatrix type="matrix" values="1 0 0 0 0  1 0 0 0 0  1 0 0 0 0  0 0 0 0 1" result="n1"/><feTurbulence type="fractalNoise" baseFrequency="0.11" numOctaves="2" seed="28"/><feColorMatrix type="matrix" values="1 0 0 0 0  1 0 0 0 0  1 0 0 0 0  0 0 0 0 1" result="n2"/><feComposite in="n1" in2="n2" operator="arithmetic" k1="0" k2="0.66" k3="0.34" k4="0" result="g"/><feComposite in="SourceGraphic" in2="g" operator="arithmetic" k1="0.7" k2="0.65" k3="0.12" k4="-0.06"/></filter>
</defs>
<g clip-path="url(#clip3)">
<g filter="url(#gr3)">
<rect x="1024.2" y="673.3" width="305.6" height="230.2" fill="#888888"/>
<rect x="1026.2" y="675.3" width="301.6" height="226.2" fill="url(#gD1)"/>
<rect x="1026.2" y="675.3" width="301.6" height="226.2" fill="url(#gD2)"/>
<rect x="1026.2" y="675.3" width="301.6" height="226.2" fill="url(#gD3)"/>
<g filter="url(#bl3)">
<ellipse cx="1244.2" cy="706.9" rx="24.3" ry="24.8" fill="#2e2e2e"/>
<ellipse cx="1087.1" cy="734.5" rx="20.2" ry="20.8" fill="#2e2e2e"/>
<ellipse cx="1110.8" cy="758.5" rx="11.2" ry="10.8" fill="#2e2e2e"/>
<ellipse cx="1244.8" cy="810" rx="24.3" ry="24.8" fill="#2e2e2e"/>
<ellipse cx="1196" cy="855.8" rx="38.6" ry="35" fill="#242424"/>
<ellipse cx="1289" cy="863.1" rx="20.8" ry="21.6" fill="#2e2e2e"/>
<path d="M1090 752 L1104 741 L1116 752 L1104 765 Z" fill="#2e2e2e"/>
</g>
<g fill="none" stroke-linecap="round" filter="url(#soft)"><path d="M1160 722 Q1168 718 1169 726 T1165 734" stroke="#000" stroke-opacity="0.16" stroke-width="1.4"/><circle cx="1063" cy="792" r="6.5" stroke="#000" stroke-opacity="0.16" stroke-width="2"/><circle cx="1093.8" cy="784" r="1.1" fill="#fff" fill-opacity="0.55" stroke="none"/><path d="M1118 828 Q1126 822 1132 827" stroke="#fff" stroke-opacity="0.16" stroke-width="1.6"/><path d="M1205 690 Q1212 695 1210 703" stroke="#fff" stroke-opacity="0.13" stroke-width="1.6"/><path d="M1290 722 L1294 727" stroke="#000" stroke-opacity="0.16" stroke-width="1.6"/></g>
</g>
<rect x="1026.2" y="675.3" width="301.6" height="226.2" fill="none" stroke="#000" stroke-opacity="0.28" stroke-width="1.6"/>
</g>
<rect x="1025.7" y="879.8" width="74.2" height="22.3" fill="#fff"/>
<rect x="1031.6" y="896.8" width="64" height="4" fill="#000"/>
<text x="1062.49" y="894.45" font-family='"Liberation Serif", "Times New Roman", serif' font-size="15.8" font-weight="bold" text-anchor="middle" fill="#000">200 nm</text>
<text x="1030.12" y="700.31" font-family='"Liberation Sans", Arial, Helvetica, sans-serif' font-size="30" font-weight="bold" text-anchor="start" fill="#fff">D</text>
<defs><radialGradient id="gE1" gradientUnits="userSpaceOnUse" cx="1600" cy="700" r="170"><stop offset="0" stop-color="#fff" stop-opacity="0.07"/><stop offset="1" stop-color="#fff" stop-opacity="0"/></radialGradient><radialGradient id="gE2" gradientUnits="userSpaceOnUse" cx="1420" cy="890" r="130"><stop offset="0" stop-color="#000" stop-opacity="0.05"/><stop offset="1" stop-color="#000" stop-opacity="0"/></radialGradient><radialGradient id="gE3" gradientUnits="userSpaceOnUse" cx="1644" cy="903" r="120"><stop offset="0" stop-color="#fff" stop-opacity="0.12"/><stop offset="1" stop-color="#fff" stop-opacity="0"/></radialGradient><linearGradient id="gE4" gradientUnits="userSpaceOnUse" x1="1564.6" y1="0" x2="1644.6" y2="0"><stop offset="0" stop-color="#fff" stop-opacity="0"/><stop offset="1" stop-color="#fff" stop-opacity="0.04"/></linearGradient></defs>
<defs>
<clipPath id="clip4"><rect x="1341.4" y="674.5" width="303.2" height="228.5"/></clipPath>
<filter id="bl4" filterUnits="userSpaceOnUse" x="1321.4" y="654.5" width="343.2" height="268.5" color-interpolation-filters="sRGB"><feGaussianBlur stdDeviation="2.2"/></filter>
<filter id="gr4" filterUnits="userSpaceOnUse" x="1340.4" y="673.5" width="305.2" height="230.5" color-interpolation-filters="sRGB"><feTurbulence type="fractalNoise" baseFrequency="0.46" numOctaves="2" seed="13"/><feColorMatrix type="matrix" values="1 0 0 0 0  1 0 0 0 0  1 0 0 0 0  0 0 0 0 1" result="n1"/><feTurbulence type="fractalNoise" baseFrequency="0.11" numOctaves="2" seed="33"/><feColorMatrix type="matrix" values="1 0 0 0 0  1 0 0 0 0  1 0 0 0 0  0 0 0 0 1" result="n2"/><feComposite in="n1" in2="n2" operator="arithmetic" k1="0" k2="0.66" k3="0.34" k4="0" result="g"/><feComposite in="SourceGraphic" in2="g" operator="arithmetic" k1="0.7" k2="0.65" k3="0.12" k4="-0.06"/></filter>
</defs>
<g clip-path="url(#clip4)">
<g filter="url(#gr4)">
<rect x="1339.4" y="672.5" width="307.2" height="232.5" fill="#686868"/>
<rect x="1341.4" y="674.5" width="303.2" height="228.5" fill="url(#gE1)"/>
<rect x="1341.4" y="674.5" width="303.2" height="228.5" fill="url(#gE2)"/>
<rect x="1341.4" y="674.5" width="303.2" height="228.5" fill="url(#gE3)"/>
<rect x="1341.4" y="674.5" width="303.2" height="228.5" fill="url(#gE4)"/>
<g filter="url(#bl4)">
<ellipse cx="1404.4" cy="707.6" rx="22.6" ry="21.4" fill="#1a1a1a"/>
<ellipse cx="1570.3" cy="707.5" rx="22.1" ry="22.1" fill="#1a1a1a"/>
<ellipse cx="1368.5" cy="761.9" rx="21.6" ry="23.5" fill="#1a1a1a"/>
<ellipse cx="1374.6" cy="813.6" rx="22.6" ry="23.5" fill="#1a1a1a"/>
<ellipse cx="1617.3" cy="805.4" rx="29" ry="30.4" fill="#1a1a1a"/>
</g>
</g>
<rect x="1341.4" y="674.5" width="303.2" height="228.5" fill="none" stroke="#000" stroke-opacity="0.28" stroke-width="1.6"/>
</g>
<rect x="1340.9" y="881.2" width="74" height="22.4" fill="#fff"/>
<rect x="1346.7" y="898.4" width="63.9" height="3.5" fill="#000"/>
<text x="1378.01" y="895.81" font-family='"Liberation Serif", "Times New Roman", serif' font-size="15.8" font-weight="bold" text-anchor="middle" fill="#000">200 nm</text>
<text x="1344.33" y="698.79" font-family='"Liberation Sans", Arial, Helvetica, sans-serif' font-size="30" font-weight="bold" text-anchor="start" fill="#fff">E</text>
</svg></body></html>
